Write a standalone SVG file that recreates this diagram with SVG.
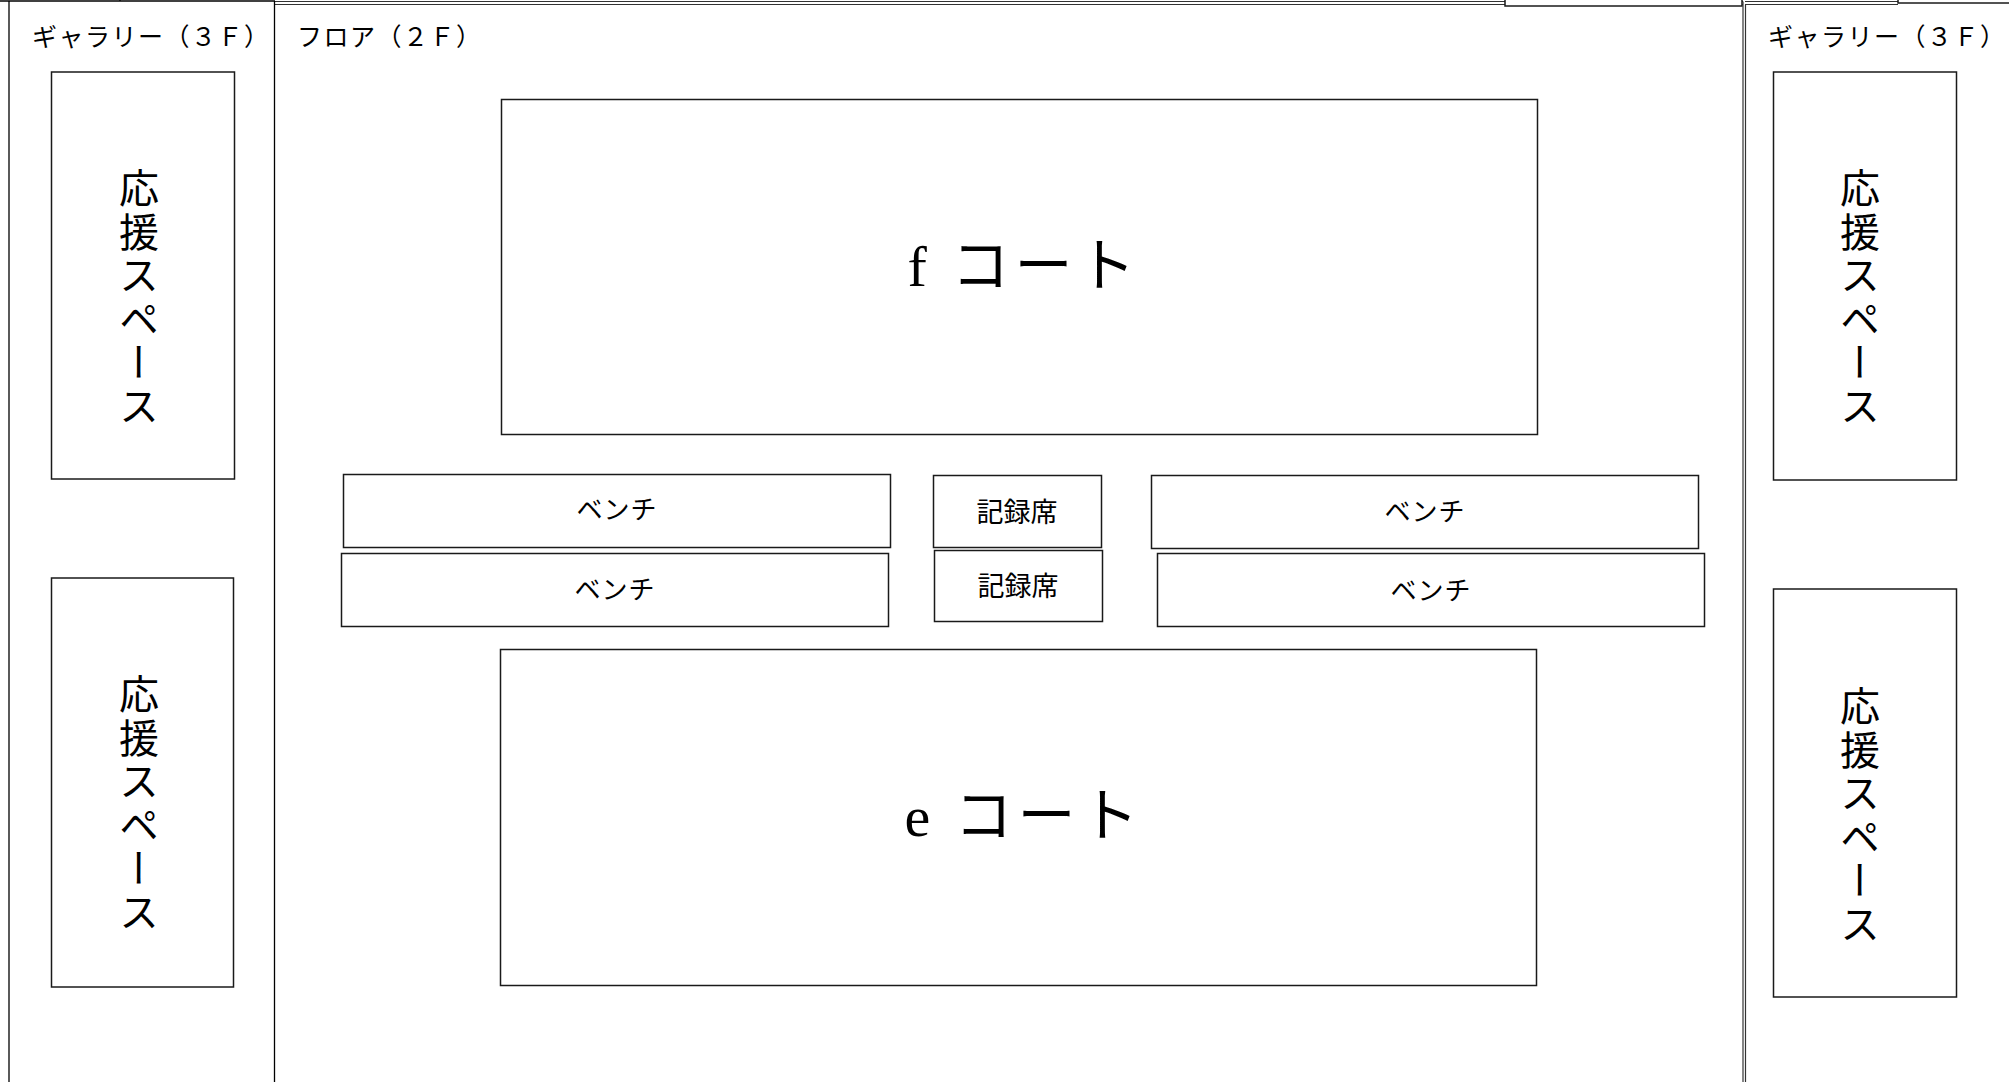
<svg xmlns="http://www.w3.org/2000/svg" width="2009" height="1082" viewBox="0 0 2009 1082">
<style>
.frame{fill:none;stroke:#000;stroke-width:1.3}
.box{fill:#fff;stroke:#1a1a1a;stroke-width:1.5}
.dbl{stroke:#333;stroke-width:1.2;fill:none}
.lbl{font-family:"Noto Sans CJK JP","Noto Sans",sans-serif;font-size:25px;letter-spacing:1.5px;fill:#000;dominant-baseline:central}
.mid{font-family:"Noto Sans CJK JP",sans-serif;fill:#000;text-anchor:middle;dominant-baseline:central}
.bench{font-size:26px;letter-spacing:1px}
.court{font-family:"Liberation Serif","Noto Sans CJK JP",serif;font-size:58px;letter-spacing:5px;fill:#000;text-anchor:middle;dominant-baseline:central}
.vert{font-family:"Noto Sans CJK JP",sans-serif;font-size:40px;fill:#000;writing-mode:vertical-rl;letter-spacing:3.5px}
</style>
<rect width="2009" height="1082" fill="#fff"/>

<g id="top-edge">
  <line class="frame" x1="0" y1="1" x2="275" y2="1"/>
  <line class="frame" x1="120" y1="0" x2="120" y2="1"/>
  <line class="dbl" x1="275" y1="1.5" x2="1743" y2="1.5"/>
  <line class="dbl" x1="275" y1="4.5" x2="1743" y2="4.5"/>
  <rect x="1505" y="-10" width="237" height="16" class="box"/>
  <line class="dbl" x1="1745" y1="1.5" x2="1898" y2="1.5"/>
  <line class="dbl" x1="1745" y1="4.5" x2="1898" y2="4.5"/>
  <rect x="1898" y="-10" width="120" height="13" class="box"/>
</g>

<g id="gallery-left">
  <line class="frame" x1="9" y1="1" x2="9" y2="1082"/>
  <line class="frame" x1="274.5" y1="1" x2="274.5" y2="1082"/>
  <text class="lbl" x="32" y="35">ギャラリー（３Ｆ）</text>
</g>

<g id="floor">
  <text class="lbl" x="297" y="35">フロア（２Ｆ）</text>
</g>

<g id="gallery-right">
  <line class="dbl" x1="1743" y1="1.5" x2="1743" y2="1082"/>
  <line class="dbl" x1="1745.5" y1="4.5" x2="1745.5" y2="1082"/>
  <text class="lbl" x="1768" y="35">ギャラリー（３Ｆ）</text>
</g>

<g id="support-left-top">
  <rect class="box" x="51.5" y="72" width="183" height="407"/>
  <text class="vert" x="139" y="168">応援スペース</text>
</g>
<g id="support-left-bottom">
  <rect class="box" x="51.5" y="578" width="182" height="409"/>
  <text class="vert" x="139" y="674">応援スペース</text>
</g>
<g id="support-right-top">
  <rect class="box" x="1773.5" y="72" width="183" height="408"/>
  <text class="vert" x="1860" y="168">応援スペース</text>
</g>
<g id="support-right-bottom">
  <rect class="box" x="1773.5" y="589" width="183" height="408"/>
  <text class="vert" x="1860" y="686">応援スペース</text>
</g>

<g id="court-f">
  <rect class="box" x="501.5" y="99.5" width="1036" height="335"/>
  <text class="court" x="1024" y="266">f コート</text>
</g>
<g id="court-e">
  <rect class="box" x="500.5" y="649.5" width="1036" height="336"/>
  <text class="court" x="1024" y="816">e コート</text>
</g>

<g id="bench-ul">
  <rect class="box" x="343.5" y="474.5" width="547" height="73"/>
  <text class="mid bench" x="617" y="507">ベンチ</text>
</g>
<g id="bench-ll">
  <rect class="box" x="341.5" y="553.5" width="547" height="73"/>
  <text class="mid bench" x="615" y="587">ベンチ</text>
</g>
<g id="record-upper">
  <rect class="box" x="933.5" y="475.5" width="168" height="72"/>
  <text class="mid" font-size="27" x="1017" y="510">記録席</text>
</g>
<g id="record-lower">
  <rect class="box" x="934.5" y="550.5" width="168" height="71"/>
  <text class="mid" font-size="27" x="1018" y="584">記録席</text>
</g>
<g id="bench-ur">
  <rect class="box" x="1151.5" y="475.5" width="547" height="73"/>
  <text class="mid bench" x="1425" y="509">ベンチ</text>
</g>
<g id="bench-lr">
  <rect class="box" x="1157.5" y="553.5" width="547" height="73"/>
  <text class="mid bench" x="1431" y="588">ベンチ</text>
</g>

<g id="connectors"></g>
</svg>
